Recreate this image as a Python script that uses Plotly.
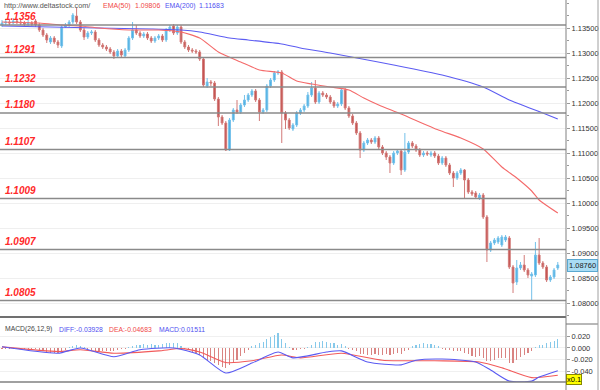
import plotly.graph_objects as go

W, H = 600, 390

# ---------------- data ----------------
open_ = [1.1356, 1.1360, 1.1362, 1.1360, 1.1364, 1.1362, 1.1360, 1.1358, 1.1360, 1.1364,
         1.1356, 1.1346, 1.1336, 1.1322, 1.1330, 1.1322, 1.1314, 1.1352, 1.1356, 1.1362,
         1.1374, 1.1362, 1.1346, 1.1332, 1.1340, 1.1342, 1.1326, 1.1316, 1.1312, 1.1308,
         1.1302, 1.1294, 1.1304, 1.1294, 1.1306, 1.1330, 1.1346, 1.1340, 1.1334, 1.1338,
         1.1330, 1.1324, 1.1330, 1.1334, 1.1326, 1.1346, 1.1354, 1.1340, 1.1352, 1.1322,
         1.1312, 1.1306, 1.1304, 1.1302, 1.1288, 1.1234, 1.1242, 1.1240, 1.1208, 1.1172,
         1.1160, 1.1106, 1.1166, 1.1186, 1.1182, 1.1196, 1.1206, 1.1216, 1.1224, 1.1206,
         1.1182, 1.1186, 1.1234, 1.1246, 1.1260, 1.1262, 1.1180, 1.1166, 1.1148, 1.1156,
         1.1180, 1.1186, 1.1194, 1.1216, 1.1230, 1.1202, 1.1220, 1.1216, 1.1212, 1.1202,
         1.1194, 1.1198, 1.1226, 1.1190, 1.1174, 1.1160, 1.1140, 1.1106, 1.1120, 1.1126,
         1.1122, 1.1130, 1.1112, 1.1100, 1.1092, 1.1080, 1.1100, 1.1104, 1.1066, 1.1102,
         1.1120, 1.1114, 1.1106, 1.1096, 1.1100, 1.1096, 1.1100, 1.1094, 1.1080, 1.1090,
         1.1076, 1.1060, 1.1050, 1.1060, 1.1066, 1.1046, 1.1022, 1.1020, 1.1010, 1.1016,
         1.0972, 1.0906, 1.0920, 1.0922, 1.0916, 1.0926, 1.0930, 1.0872, 1.0842, 1.0870,
         1.0876, 1.0866, 1.0854, 1.0856, 1.0896, 1.0880, 1.0872, 1.0846, 1.0852, 1.0870]
high = [1.1366, 1.1368, 1.1366, 1.1370, 1.1368, 1.1366, 1.1364, 1.1366, 1.1364, 1.1368,
        1.1360, 1.1350, 1.1340, 1.1334, 1.1334, 1.1326, 1.1356, 1.1360, 1.1366, 1.1380,
        1.1390, 1.1366, 1.1350, 1.1344, 1.1346, 1.1346, 1.1330, 1.1320, 1.1316, 1.1312,
        1.1306, 1.1308, 1.1308, 1.1310, 1.1334, 1.1362, 1.1356, 1.1344, 1.1342, 1.1342,
        1.1334, 1.1334, 1.1338, 1.1338, 1.1350, 1.1356, 1.1358, 1.1356, 1.1356, 1.1326,
        1.1316, 1.1310, 1.1308, 1.1306, 1.1292, 1.1250, 1.1246, 1.1244, 1.1212, 1.1176,
        1.1164, 1.1170, 1.1190, 1.1206, 1.1200, 1.1216, 1.1220, 1.1228, 1.1228, 1.1210,
        1.1190, 1.1238, 1.1250, 1.1264, 1.1266, 1.1266, 1.1184, 1.1170, 1.1160, 1.1184,
        1.1190, 1.1198, 1.1222, 1.1242, 1.1246, 1.1224, 1.1224, 1.1220, 1.1216, 1.1206,
        1.1202, 1.1230, 1.1230, 1.1194, 1.1178, 1.1164, 1.1144, 1.1124, 1.1130, 1.1130,
        1.1134, 1.1134, 1.1116, 1.1104, 1.1096, 1.1104, 1.1108, 1.1108, 1.1140, 1.1124,
        1.1124, 1.1118, 1.1110, 1.1104, 1.1104, 1.1104, 1.1104, 1.1098, 1.1094, 1.1094,
        1.1080, 1.1064, 1.1064, 1.1070, 1.1068, 1.1050, 1.1026, 1.1024, 1.1020, 1.1020,
        1.0976, 1.0924, 1.0930, 1.0934, 1.0936, 1.0936, 1.0934, 1.0876, 1.0886, 1.0882,
        1.0896, 1.0870, 1.0862, 1.0922, 1.0930, 1.0884, 1.0876, 1.0856, 1.0870, 1.0882]
low = [1.1352, 1.1356, 1.1356, 1.1358, 1.1358, 1.1356, 1.1354, 1.1354, 1.1354, 1.1352,
       1.1342, 1.1332, 1.1320, 1.1318, 1.1318, 1.1310, 1.1310, 1.1350, 1.1352, 1.1358,
       1.1358, 1.1342, 1.1326, 1.1328, 1.1336, 1.1322, 1.1312, 1.1308, 1.1304, 1.1298,
       1.1288, 1.1292, 1.1292, 1.1290, 1.1302, 1.1326, 1.1336, 1.1330, 1.1330, 1.1326,
       1.1320, 1.1320, 1.1326, 1.1322, 1.1322, 1.1342, 1.1336, 1.1336, 1.1318, 1.1308,
       1.1302, 1.1300, 1.1298, 1.1284, 1.1232, 1.1230, 1.1234, 1.1204, 1.1154, 1.1156,
       1.1104, 1.1104, 1.1162, 1.1178, 1.1178, 1.1192, 1.1202, 1.1212, 1.1202, 1.1164,
       1.1178, 1.1182, 1.1230, 1.1242, 1.1256, 1.1120, 1.1148, 1.1146, 1.1144, 1.1152,
       1.1176, 1.1182, 1.1190, 1.1212, 1.1198, 1.1198, 1.1212, 1.1208, 1.1198, 1.1190,
       1.1190, 1.1194, 1.1186, 1.1170, 1.1156, 1.1136, 1.1090, 1.1102, 1.1116, 1.1118,
       1.1118, 1.1108, 1.1096, 1.1086, 1.1060, 1.1076, 1.1096, 1.1056, 1.1062, 1.1098,
       1.1110, 1.1102, 1.1092, 1.1092, 1.1094, 1.1092, 1.1090, 1.1076, 1.1076, 1.1072,
       1.1056, 1.1032, 1.1046, 1.1056, 1.1010, 1.1018, 1.1014, 1.1008, 1.1006, 1.0968,
       1.0882, 1.0902, 1.0916, 1.0918, 1.0912, 1.0922, 1.0868, 1.0820, 1.0836, 1.0866,
       1.0862, 1.0850, 1.0806, 1.0852, 1.0876, 1.0868, 1.0842, 1.0842, 1.0848, 1.0866]
close = [1.1360, 1.1362, 1.1360, 1.1364, 1.1362, 1.1360, 1.1358, 1.1360, 1.1358, 1.1356,
         1.1346, 1.1336, 1.1326, 1.1330, 1.1322, 1.1316, 1.1352, 1.1356, 1.1362, 1.1376,
         1.1362, 1.1346, 1.1332, 1.1340, 1.1342, 1.1326, 1.1316, 1.1312, 1.1308, 1.1302,
         1.1294, 1.1304, 1.1296, 1.1306, 1.1330, 1.1346, 1.1340, 1.1334, 1.1338, 1.1330,
         1.1324, 1.1330, 1.1334, 1.1326, 1.1346, 1.1352, 1.1340, 1.1352, 1.1322, 1.1312,
         1.1306, 1.1304, 1.1302, 1.1288, 1.1236, 1.1242, 1.1240, 1.1208, 1.1172, 1.1160,
         1.1106, 1.1166, 1.1186, 1.1182, 1.1196, 1.1206, 1.1216, 1.1224, 1.1206, 1.1182,
         1.1186, 1.1234, 1.1246, 1.1260, 1.1262, 1.1180, 1.1166, 1.1150, 1.1156, 1.1180,
         1.1186, 1.1194, 1.1216, 1.1230, 1.1202, 1.1220, 1.1216, 1.1212, 1.1202, 1.1194,
         1.1198, 1.1226, 1.1190, 1.1174, 1.1160, 1.1140, 1.1106, 1.1120, 1.1126, 1.1122,
         1.1130, 1.1112, 1.1100, 1.1092, 1.1080, 1.1100, 1.1104, 1.1066, 1.1102, 1.1120,
         1.1114, 1.1106, 1.1096, 1.1100, 1.1098, 1.1100, 1.1094, 1.1080, 1.1090, 1.1076,
         1.1060, 1.1050, 1.1060, 1.1066, 1.1046, 1.1022, 1.1018, 1.1012, 1.1016, 1.0972,
         1.0906, 1.0920, 1.0926, 1.0930, 1.0932, 1.0932, 1.0872, 1.0840, 1.0870, 1.0876,
         1.0866, 1.0856, 1.0858, 1.0896, 1.0880, 1.0872, 1.0846, 1.0852, 1.0866, 1.0876]

ema50_idx = [0, 10, 16, 21, 26, 34, 42, 48, 53, 58, 64, 69, 75, 79, 83, 88, 93, 97,
             101, 107, 117, 123, 129, 134, 138, 142, 144, 149]
ema50_val = [1.1362, 1.1360, 1.1356, 1.1354, 1.1350, 1.1346, 1.1346, 1.1342, 1.1330,
             1.1302, 1.1282, 1.1266, 1.1260, 1.1244, 1.1238, 1.1232, 1.1226, 1.1210,
             1.1196, 1.1178, 1.1146, 1.1130, 1.1108, 1.1072, 1.1050, 1.1024, 1.1006, 1.0980]

ema200_idx = [0, 26, 40, 48, 53, 61, 66, 75, 80, 88, 98, 105, 118, 129, 136, 145, 149]
ema200_val = [1.1354, 1.1350, 1.1348, 1.1346, 1.1342, 1.1330, 1.1326, 1.1318, 1.1310,
              1.1300, 1.1286, 1.1276, 1.1256, 1.1232, 1.1206, 1.1180, 1.1168]

levels = [1.1356, 1.1291, 1.1232, 1.1180, 1.1107, 1.1009, 1.0907, 1.0805]

macd_hist = [-0.001, -0.002, -0.002, -0.002, -0.002, -0.002, -0.002, -0.002, -0.002, -0.002,
             -0.003, -0.005, -0.007, -0.008, -0.009, -0.008, -0.006, -0.003, 0.002, 0.004,
             0.005, 0.004, 0.001, -0.001, -0.004, -0.005, -0.006, -0.006, -0.005, -0.006,
             -0.005, -0.004, -0.002, -0.002, 0.001, 0.003, 0.005, 0.006, 0.007, 0.006,
             0.007, 0.006, 0.006, 0.007, 0.008, 0.009, 0.008, 0.008, 0.003, -0.001,
             -0.004, -0.007, -0.009, -0.012, -0.017, -0.020, -0.022, -0.026, -0.030, -0.032,
             -0.035, -0.030, -0.025, -0.020, -0.014, -0.008, -0.003, 0.004, 0.006, 0.008,
             0.010, 0.015, 0.019, 0.023, 0.026, 0.016, 0.008, 0.002, -0.003, -0.004,
             -0.002, -0.001, 0.002, 0.006, 0.010, 0.011, 0.012, 0.011, 0.009, 0.008,
             0.006, 0.007, 0.004, -0.002, -0.004, -0.006, -0.010, -0.011, -0.012, -0.012,
             -0.011, -0.012, -0.012, -0.011, -0.012, -0.010, -0.009, -0.010, -0.006, -0.003,
             0.004, 0.006, 0.007, 0.008, 0.007, 0.007, 0.006, 0.004, -0.001, -0.003,
             -0.004, -0.006, -0.006, -0.005, -0.008, -0.011, -0.013, -0.015, -0.014, -0.018,
             -0.023, -0.022, -0.020, -0.018, -0.017, -0.018, -0.026, -0.025, -0.020, -0.016,
             -0.012, -0.009, -0.006, 0.002, 0.005, 0.006, 0.008, 0.010, 0.012, 0.015]

diff_idx = [0, 15, 21, 30, 37, 46, 53, 60, 67, 74, 78, 87, 91, 98, 107, 111, 118, 127,
            131, 136, 142, 144, 149]
diff_val = [0.002, -0.009, 0.000, -0.015, -0.003, 0.000, -0.012, -0.043, -0.026, -0.007,
            -0.017, -0.007, -0.005, -0.024, -0.029, -0.021, -0.019, -0.024, -0.038, -0.057,
            -0.057, -0.050, -0.039]
dea_idx = [0, 15, 21, 30, 42, 48, 53, 60, 67, 75, 80, 91, 102, 116, 128, 134, 142, 149]
dea_val = [0.002, -0.006, -0.003, -0.009, -0.005, -0.001, -0.007, -0.025, -0.022, -0.012,
           -0.017, -0.009, -0.021, -0.022, -0.024, -0.034, -0.051, -0.047]

price_ticks = [1.08, 1.085, 1.09, 1.095, 1.10, 1.105, 1.11, 1.115, 1.12, 1.125, 1.13, 1.135]
macd_ticks = [0.02, 0.0, -0.02, -0.04]
macd_tick_text = ["0.020", "0.000", "-0.020", "-0.040"]
last_price = 1.08760

# ---------------- helpers (layout only) ----------------
def fx(p):
    return p / W

def fy(p):
    return (H - p) / H

PLOT_R = 566
FONT = "Liberation Sans, Arial, sans-serif"
idx = list(range(len(close)))

fig = go.Figure()

fig.add_trace(go.Candlestick(
    x=idx, open=open_, high=high, low=low, close=close,
    increasing=dict(fillcolor="#4aaee2", line=dict(color="#74c1ea", width=1)),
    decreasing=dict(fillcolor="#c24e4c", line=dict(color="#d27a78", width=1)),
    whiskerwidth=0, xaxis="x", yaxis="y", showlegend=False, hoverinfo="skip"))

fig.add_trace(go.Scatter(x=ema200_idx, y=ema200_val, mode="lines",
                         line=dict(color="#5c5cf2", width=1.1, shape="spline", smoothing=0.6),
                         xaxis="x", yaxis="y", showlegend=False, hoverinfo="skip"))
fig.add_trace(go.Scatter(x=ema50_idx, y=ema50_val, mode="lines",
                         line=dict(color="#f46a6a", width=1.1, shape="spline", smoothing=0.6),
                         xaxis="x", yaxis="y", showlegend=False, hoverinfo="skip"))

hist_colors = ["#86c9ea" if v >= 0 else "#d98482" for v in macd_hist]
fig.add_trace(go.Bar(x=idx, y=macd_hist, marker=dict(color=hist_colors, line=dict(width=0)),
                     width=0.3, xaxis="x2", yaxis="y2", showlegend=False, hoverinfo="skip"))
fig.add_trace(go.Scatter(x=dea_idx, y=dea_val, mode="lines",
                         line=dict(color="#f25a5a", width=1.1, shape="spline", smoothing=0.6),
                         xaxis="x2", yaxis="y2", showlegend=False, hoverinfo="skip"))
fig.add_trace(go.Scatter(x=diff_idx, y=diff_val, mode="lines",
                         line=dict(color="#5a5af2", width=1.1, shape="spline", smoothing=0.6),
                         xaxis="x2", yaxis="y2", showlegend=False, hoverinfo="skip"))

xrange = [-0.536, 151.2]
shapes = []
for lv in levels:
    shapes.append(dict(type="line", xref="paper", yref="y", x0=0, x1=fx(PLOT_R), y0=lv, y1=lv,
                       line=dict(color="#8a8a8a", width=1.6), layer="above"))
# panel borders
shapes.append(dict(type="line", xref="paper", yref="paper", x0=0, x1=fx(PLOT_R),
                   y0=fy(317), y1=fy(317), line=dict(color="#707070", width=2)))
shapes.append(dict(type="line", xref="paper", yref="paper", x0=0, x1=fx(PLOT_R),
                   y0=fy(382), y1=fy(382), line=dict(color="#808080", width=1.5)))
shapes.append(dict(type="line", xref="paper", yref="paper", x0=fx(PLOT_R), x1=fx(598),
                   y0=fy(324), y1=fy(324), line=dict(color="#707070", width=1)))
shapes.append(dict(type="line", xref="paper", yref="paper", x0=fx(598), x1=fx(598),
                   y0=0, y1=1, line=dict(color="#a0a0a0", width=1)))
shapes.append(dict(type="line", xref="paper", yref="paper", x0=fx(PLOT_R), x1=fx(PLOT_R),
                   y0=0, y1=1, line=dict(color="#808080", width=1)))

annotations = []
for lv in levels:
    annotations.append(dict(x=fx(3), xref="paper", y=lv, yref="y", xanchor="left", yanchor="bottom",
                            yshift=1, showarrow=False, text="<b><i>%.4f</i></b>" % lv,
                            font=dict(family=FONT, size=10, color="#ff2a2a")))

top_items = [(2, "http://www.deltastock.com/", "#555555", 7.3), (101, "EMA(50)", "#f04848", 7),
             (133, "1.09806", "#f04848", 7), (163, "EMA(200)", "#5050f0", 6.8),
             (197, "1.11683", "#5050f0", 7)]
for xp, t, c, fs in top_items:
    annotations.append(dict(x=fx(xp), xref="paper", y=fy(6), yref="paper", xanchor="left",
                            yanchor="middle", showarrow=False, text=t,
                            font=dict(family=FONT, size=fs, color=c)))

macd_items = [(3, "MACD(26,12,9)", "#444444"), (57, "DIFF:-0.03928", "#5050f0"),
              (107, "DEA:-0.04683", "#f04848"), (157, "MACD:0.01511", "#5050f0")]
for xp, t, c in macd_items:
    annotations.append(dict(x=fx(xp), xref="paper", y=fy(329), yref="paper", xanchor="left",
                            yanchor="middle", showarrow=False, text=t,
                            font=dict(family=FONT, size=6.8, color=c)))

annotations.append(dict(x=fx(567), xref="paper", y=last_price, yref="y", xanchor="left",
                        yanchor="middle", showarrow=False, text="%.5f" % last_price,
                        bgcolor="#a9dcf4", bordercolor="#5aa8d0", borderwidth=1, borderpad=1,
                        font=dict(family=FONT, size=7.5, color="#222222")))
annotations.append(dict(x=fx(566), xref="paper", y=fy(379), yref="paper", xanchor="left",
                        yanchor="middle", showarrow=False, text="x0.1",
                        bgcolor="#ffff00", bordercolor="#888800", borderwidth=1, borderpad=0,
                        font=dict(family=FONT, size=7.5, color="#000000")))

fig.update_layout(
    width=W, height=H, margin=dict(l=0, r=0, t=0, b=0),
    paper_bgcolor="white", plot_bgcolor="white",
    bargap=0, showlegend=False,
    xaxis=dict(domain=[0, fx(PLOT_R)], range=xrange, anchor="y", visible=False,
               rangeslider=dict(visible=False), fixedrange=True),
    yaxis=dict(domain=[fy(317), 1], range=[1.0772, 1.1406], side="right", anchor="x",
               tickvals=price_ticks, tickformat=".5f", showgrid=True, gridcolor="#efefef",
               gridwidth=1, ticks="outside", ticklen=3, tickcolor="#999999",
               minor=dict(dtick=0.0025, tick0=1.08, ticks="outside", ticklen=2,
                          tickcolor="#999999", showgrid=False),
               showline=False, zeroline=False, fixedrange=True,
               tickfont=dict(family=FONT, size=7.5, color="#333333")),
    xaxis2=dict(domain=[0, fx(PLOT_R)], range=xrange, anchor="y2", visible=False,
                fixedrange=True),
    yaxis2=dict(domain=[fy(382), fy(318)], range=[-0.0585, 0.0516], side="right", anchor="x2",
                tickvals=macd_ticks, ticktext=macd_tick_text, showgrid=True, gridcolor="#f0f0f0",
                ticks="outside", ticklen=3, tickcolor="#999999", zeroline=False, showline=False,
                fixedrange=True, tickfont=dict(family=FONT, size=7.5, color="#333333")),
    shapes=shapes, annotations=annotations,
)

fig.write_html("out.html", config={"displayModeBar": False, "staticPlot": True},
               post_script="document.body.style.margin='0px';document.body.style.padding='0px';")
